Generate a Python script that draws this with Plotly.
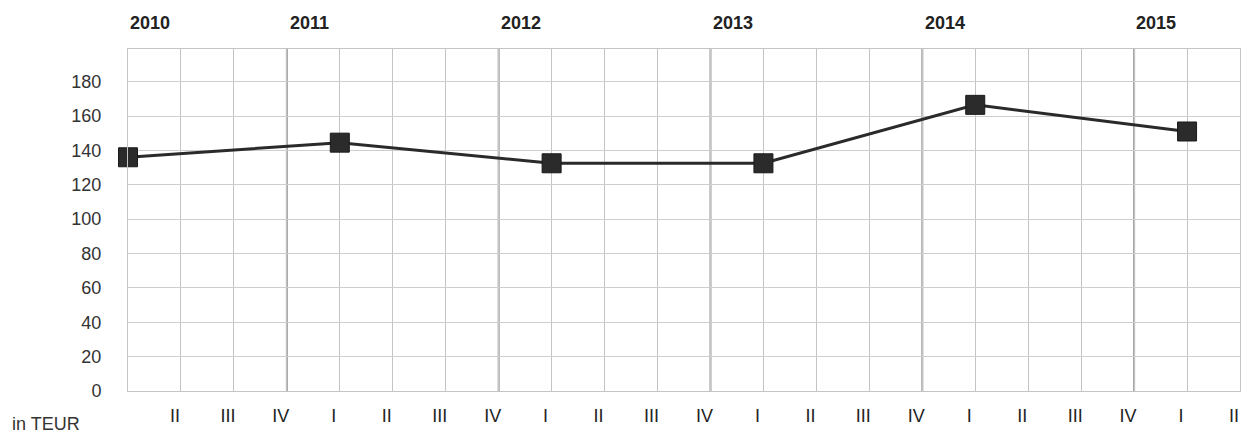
import plotly.graph_objects as go

years = ["2010", "2011", "2012", "2013", "2014", "2015"]
values = [136, 144.5, 132.5, 132.5, 166.5, 151]
quarter_labels = ["II", "III", "IV", "I", "II", "III", "IV", "I", "II", "III", "IV",
                  "I", "II", "III", "IV", "I", "II", "III", "IV", "I", "II"]
y_ticks = [0, 20, 40, 60, 80, 100, 120, 140, 160, 180]
unit_label = "in TEUR"

QPY = 4  # quarters per year
x_pos = [i * QPY for i in range(len(years))]
q_pos = list(range(1, len(quarter_labels) + 1))
n_q = len(quarter_labels)

FONT = "Liberation Sans, Arial, sans-serif"

fig = go.Figure()
fig.add_trace(go.Scatter(
    x=x_pos, y=values, mode="lines+markers",
    line=dict(color="#2a2a2a", width=3),
    marker=dict(symbol="square", size=19, color="#2b2b2b",
                line=dict(color="#1a1a1a", width=1)),
    cliponaxis=False, showlegend=False, hoverinfo="skip",
))

# darker vertical lines (quarter IV positions)
shapes = []
for p, lab in zip(q_pos, quarter_labels):
    if lab == "IV":
        shapes.append(dict(type="line", xref="x", yref="paper", x0=p, x1=p, y0=0, y1=1,
                           line=dict(color="#9c9c9c", width=2), layer="below"))

annotations = []
for i, yr in enumerate(years):
    xp = max(i * QPY - 0.58, 0.42)
    annotations.append(dict(x=xp, y=1, xref="x", yref="paper", yshift=14, yanchor="bottom",
                            text=f"<b>{yr}</b>", showarrow=False,
                            font=dict(family=FONT, size=18, color="#222")))
annotations.append(dict(x=0, y=0, xref="paper", yref="paper", xshift=-118, yshift=-21,
                        xanchor="left", yanchor="top", text=unit_label, showarrow=False,
                        font=dict(family=FONT, size=18, color="#333")))

fig.update_layout(
    width=1251, height=435,
    margin=dict(l=128, r=11, t=49, b=44),
    paper_bgcolor="white", plot_bgcolor="white",
    shapes=shapes, annotations=annotations,
    font=dict(family=FONT, size=18, color="#333"),
    xaxis=dict(range=[0, n_q], tickmode="array", tickvals=q_pos, ticktext=quarter_labels,
               showgrid=True, gridcolor="#c4c4c4", gridwidth=1.2, zeroline=False,
               showline=True, linecolor="#c4c4c4", mirror=True, automargin=False,
               ticks="", ticklabelshift=-6, ticklabelstandoff=8,
               tickfont=dict(family=FONT, size=18, color="#222")),
    yaxis=dict(range=[0, 199], tickmode="array", tickvals=y_ticks,
               showgrid=True, gridcolor="#cecece", gridwidth=1.2, zeroline=False,
               showline=True, linecolor="#c4c4c4", mirror=True, automargin=False,
               ticks="", ticklabelstandoff=22,
               tickfont=dict(family=FONT, size=18, color="#333")),
)

fig.write_html("out.html", config={"displayModeBar": False},
               post_script="document.body.style.margin='0';document.body.style.overflow='hidden';")
